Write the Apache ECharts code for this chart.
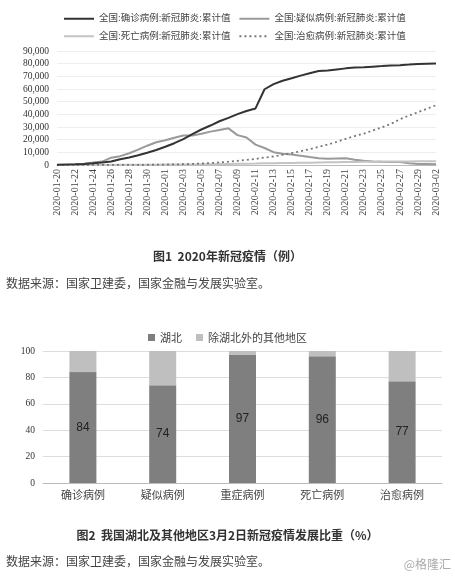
<!DOCTYPE html>
<html><head><meta charset="utf-8">
<script src="https://cdn.jsdelivr.net/npm/echarts@6/dist/echarts.min.js"></script>
<style>html,body{margin:0;padding:0;background:#fff}#c{width:455px;height:580px}</style>
</head><body><div id="c"></div>
<script>
const dates = ["2020-01-20","2020-01-21","2020-01-22","2020-01-23","2020-01-24","2020-01-25","2020-01-26","2020-01-27","2020-01-28","2020-01-29","2020-01-30","2020-01-31","2020-02-01","2020-02-02","2020-02-03","2020-02-04","2020-02-05","2020-02-06","2020-02-07","2020-02-08","2020-02-09","2020-02-10","2020-02-11","2020-02-12","2020-02-13","2020-02-14","2020-02-15","2020-02-16","2020-02-17","2020-02-18","2020-02-19","2020-02-20","2020-02-21","2020-02-22","2020-02-23","2020-02-24","2020-02-25","2020-02-26","2020-02-27","2020-02-28","2020-02-29","2020-03-01","2020-03-02"];
const confirmed = [291,440,571,830,1287,1975,2744,4515,5974,7711,9692,11791,14380,17205,20438,24324,28018,31161,34546,37198,40171,42638,44653,59804,63851,66492,68500,70548,72436,74185,74576,75465,76288,76936,77150,77658,78064,78497,78824,79251,79824,80026,80151];
const suspected = [54,37,393,1072,1965,2684,5794,6973,9239,12167,15238,17988,19544,21558,23214,23260,24702,26359,27657,28942,23589,21675,16067,13435,10109,8969,8228,7264,6242,5248,4922,5206,5365,4148,3434,2824,2491,2358,2308,1418,851,715,587];
const deaths = [6,9,17,25,41,56,80,106,132,170,213,259,304,361,425,490,563,636,722,811,908,1016,1113,1367,1380,1523,1665,1770,1868,2004,2118,2236,2345,2442,2592,2663,2715,2744,2788,2835,2870,2912,2943];
const cured = [25,25,28,34,38,49,51,60,103,124,171,243,328,475,632,892,1153,1540,2050,2649,3281,3996,4740,5911,6723,8096,9419,10844,12552,14376,16155,18264,20659,22888,24734,27323,29745,32495,36117,39002,41625,44462,47204];
const lineNames = ["全国:确诊病例:新冠肺炎:累计值","全国:疑似病例:新冠肺炎:累计值","全国:死亡病例:新冠肺炎:累计值","全国:治愈病例:新冠肺炎:累计值"];
const barCats = ["确诊病例","疑似病例","重症病例","死亡病例","治愈病例"];
const hubei = [84,74,97,96,77];
const others = [16,26,3,4,23];
const barNames = ["湖北","除湖北外的其他地区"];

const serif = "Liberation Serif, Noto Sans CJK SC";
const sans = "Noto Sans CJK SC";
const chart = echarts.init(document.getElementById('c'));
chart.setOption({
  animation:false,
  legend:[{
    data:lineNames, top:9, left:58, width:400, itemGap:8, itemWidth:30, itemHeight:8,
    itemStyle:{opacity:0},
    textStyle:{fontFamily:serif,fontSize:9.5,color:'#444'}
  },{
    data:barNames, top:327, left:'center', itemWidth:7, itemHeight:7, icon:'rect', itemGap:14,
    textStyle:{fontFamily:sans,fontSize:11,color:'#444'}
  }],
  grid:[{left:57,right:19,top:51,height:114},{left:43,right:13,top:351,height:132}],
  xAxis:[{
    gridIndex:0,type:'category',data:dates,boundaryGap:false,
    axisLine:{lineStyle:{color:'#bbb'}},axisTick:{show:false},
    axisLabel:{rotate:90,interval:1,fontFamily:serif,fontSize:10,color:'#444',margin:4}
  },{
    gridIndex:1,type:'category',data:barCats,
    axisLine:{lineStyle:{color:'#bbb'}},axisTick:{show:false},
    axisLabel:{fontFamily:serif,fontSize:11,color:'#444',margin:8}
  }],
  yAxis:[{
    gridIndex:0,type:'value',min:0,max:90000,interval:10000,
    axisLabel:{fontFamily:serif,fontSize:9.5,color:'#333',formatter:v=>v.toLocaleString('en-US')},
    splitLine:{lineStyle:{color:'#eee'}}
  },{
    gridIndex:1,type:'value',min:0,max:100,interval:20,
    axisLabel:{fontFamily:serif,fontSize:9.5,color:'#333'},
    splitLine:{lineStyle:{color:'#ddd'}}
  }],
  series:[
    {name:lineNames[0],type:'line',data:confirmed,symbol:'none',lineStyle:{color:'#333',width:2},itemStyle:{color:'#333'},z:5},
    {name:lineNames[1],type:'line',data:suspected,symbol:'none',lineStyle:{color:'#9a9a9a',width:2},itemStyle:{color:'#9a9a9a'}},
    {name:lineNames[2],type:'line',data:deaths,symbol:'none',lineStyle:{color:'#c4c4c4',width:2},itemStyle:{color:'#c4c4c4'}},
    {name:lineNames[3],type:'line',data:cured,symbol:'none',lineStyle:{color:'#777',width:1.8,type:[2,3]},itemStyle:{color:'#777'}},
    {name:barNames[0],type:'bar',xAxisIndex:1,yAxisIndex:1,stack:'s',data:hubei,barWidth:27,itemStyle:{color:'#7f7f7f'},
      label:{show:true,position:'inside',fontFamily:'Liberation Sans',fontSize:12,color:'#222'}},
    {name:barNames[1],type:'bar',xAxisIndex:1,yAxisIndex:1,stack:'s',data:others,barWidth:27,itemStyle:{color:'#bfbfbf'}}
  ],
  graphic:[
    {type:'text',left:'center',top:250,style:{text:'图1  2020年新冠疫情（例）',font:'bold 12px '+sans,fill:'#333'}},
    {type:'text',left:6,top:277,style:{text:'数据来源：国家卫建委，国家金融与发展实验室。',font:'12px '+sans,fill:'#444'}},
    {type:'text',left:'center',top:529,style:{text:'图2  我国湖北及其他地区3月2日新冠疫情发展比重（%）',font:'bold 12px '+sans,fill:'#333'}},
    {type:'text',left:6,top:555,style:{text:'数据来源：国家卫建委，国家金融与发展实验室。',font:'12px '+sans,fill:'#444'}},
    {type:'text',right:4,top:558,style:{text:'@格隆汇',font:'12px '+sans,fill:'#aaa'}}
  ]
});
</script></body></html>
